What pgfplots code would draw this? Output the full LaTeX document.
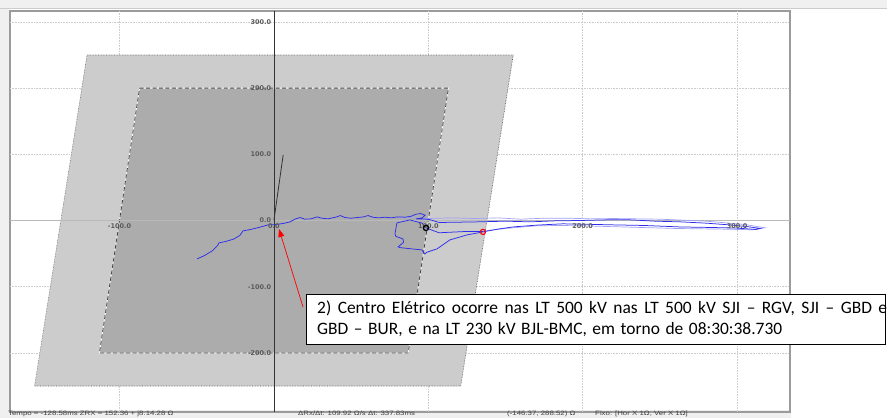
\documentclass[border=0pt]{standalone}
\usepackage{pgfplots}
\pgfplotsset{compat=1.18}
\usetikzlibrary{arrows.meta}
\usepackage{graphicx}
\usepackage{fontspec}
\setmainfont{Carlito}
\newfontfamily\labfont{DejaVu Sans}
\newfontfamily\barfont{Liberation Sans}
\definecolor{winbg}{RGB}{240,240,240}
\definecolor{zoneA}{RGB}{204,204,204}
\definecolor{zoneB}{RGB}{172,172,172}
\definecolor{framec}{RGB}{155,155,155}
\definecolor{trace}{RGB}{45,45,235}
\definecolor{labc}{RGB}{90,90,90}

\begin{document}
\begin{tikzpicture}[x=1bp,y=1bp]
\useasboundingbox (0,0) rectangle (887,418);
\clip (0,0) rectangle (887,418);
\fill[white] (0,0) rectangle (887,418);
\fill[winbg] (0,410) rectangle (887,418);
\fill[winbg] (0,0) rectangle (9,418);
\fill[winbg] (0,0) rectangle (791,8);
\draw[gray!40] (0,409.5) -- (887,409.5);

\begin{axis}[
  anchor=south west, at={(6.5,9.2)},
  width=780bp, height=401bp, scale only axis,
  xmin=-170.9, xmax=334.3, ymin=-289.1, ymax=316.6,
  xtick=\empty, ytick=\empty,
  axis line style={draw=framec, line width=1.6pt},
  clip=true
]
% grid
\pgfplotsinvokeforeach{-100,100,200,300}{
  \addplot[densely dotted, gray!40, line width=0.6pt] coordinates {(#1,-289.1) (#1,316.6)};}
\pgfplotsinvokeforeach{-200,-100,100,200,300}{
  \addplot[densely dotted, gray!40, line width=0.6pt] coordinates {(-170.9,#1) (334.3,#1)};}
% outer zone
\addplot[fill=zoneA, draw=none] coordinates {(-121,250) (155,250) (121,-250) (-155,-250)} --cycle;
\addplot[densely dotted, gray!70!black, line width=0.6pt] coordinates {(-121,250) (155,250) (121,-250) (-155,-250) (-121,250)};
% inner zone
\addplot[fill=zoneB, draw=none] coordinates {(-87,200) (113,200) (87,-200) (-113,-200)} --cycle;
\addplot[white, line width=0.8pt] coordinates {(-87,200) (113,200) (87,-200) (-113,-200) (-87,200)};
\addplot[dash pattern=on 4pt off 2.5pt, gray!55!black, line width=0.8pt] coordinates {(-87,200) (113,200) (87,-200) (-113,-200) (-87,200)};
% axes through origin
\addplot[gray!55, line width=1.8pt] coordinates {(-170.9,0) (334.3,0)};
\addplot[gray!40!black, line width=0.6pt] coordinates {(0,-289.1) (0,316.6)};
\addplot[black!80, line width=0.8pt] coordinates {(0,0) (6,99)};
% pale strand
\addplot[trace!45, line width=0.7pt] coordinates {
(80,5) (100,3) (115,4) (130,3) (145,4) (160,2) (175,3.5) (190,3.5) (205,2.5) (220,3) (235,2.5) (250,2) (265,0.5) (280,-1)
(295,-4) (305,-6) (318,-11) (310,-14) (290,-13) (275,-12.5) (260,-12) (245,-11) (230,-10) (215,-9) (200,-8) (185,-7.5) (170,-8) (160,-10) (150,-12) (135,-16)};
% main trajectory
\addplot[trace, line width=0.75pt] coordinates {
(-49.8,-58) (-45,-53) (-40,-46) (-36.5,-38) (-35.6,-33.8) (-31,-31.5) (-26,-28) (-22,-22.5) (-20,-15.7)
(-15,-13.5) (-9,-10) (-3.8,-6.6) (0.7,-6.2) (6,-4.5) (10.4,-2.1) (14,2.5) (17,4.5) (20,2) (24,2.5) (28,5.5)
(31,3.5) (35,2.5) (40,5) (43,7.5) (46,4.5) (50,3.5) (54,4.5) (58,5.5) (61,7.5) (64,5) (68,4) (72,5) (76,4)
(80,5.5) (85,5) (89,6.5) (92,9.5) (95,10.5) (98,8) (96,4) (92,2.5) (100,2) (107,-3) (120,-2.5) (133,-2)
(150,-1) (166,-2) (182,-0.5) (198,0) (215,1) (231,1) (247,-1) (263,-2) (280,-4) (295,-6.6) (306,-9)
(315,-12) (312,-13.5) (300,-11.5) (283,-10.5) (263,-9.7) (240,-7.5) (220,-6.6) (200,-5.5) (187,-5)
(170,-7) (155,-9.7) (145,-13) (135.4,-17.2) (125,-21.8) (114,-29.3) (105.6,-42.9) (99,-48) (97.8,-50.5)
(95.9,-44.4) (89.4,-42.9) (82,-41) (80.4,-39.9) (84,-33) (83.6,-27.8) (79,-24) (78.4,-20.2) (79.7,-3.6)
(88,0.9) (96,-4) (98.5,-11.2) (107,-18.5) (125,-16.5) (135.4,-16.5)};
\addplot[only marks, mark=o, mark size=2.6pt, black, line width=1.3pt] coordinates {(98.5,-11.2)};
\addplot[only marks, mark=o, mark size=2.6pt, red, line width=1.1pt, mark options={fill=white}] coordinates {(135.4,-17.2)};
% tick labels
\begin{scope}[every node/.style={font=\labfont\bfseries\fontsize{6.5}{7}\selectfont, text=labc, inner sep=1pt}]
\node[anchor=east] at (axis cs:-1,300) {300.0};
\node[anchor=east] at (axis cs:-1,200) {200.0};
\node[anchor=east] at (axis cs:-1,100) {100.0};
\node[anchor=east] at (axis cs:-1,0) {0.0};
\node[anchor=east] at (axis cs:-1,-100) {-100.0};
\node[anchor=east] at (axis cs:-1,-200) {-200.0};
\node[anchor=north] at (axis cs:-100,-3) {-100.0};
\node[anchor=north] at (axis cs:0,-3) {0.0};
\node[anchor=north] at (axis cs:100,-3) {100.0};
\node[anchor=north] at (axis cs:200,-3) {200.0};
\node[anchor=north] at (axis cs:300,-3) {300.0};
\end{scope}
\end{axis}

% annotation
\draw[black, line width=0.9pt, fill=white] (306,74) rectangle (885,124);
\node[anchor=base west, inner sep=0pt, font=\fontsize{17.5}{20}\selectfont] at (317,105)
  {\makebox[570bp][s]{2) Centro Elétrico ocorre nas LT 500 kV nas LT 500 kV SJI – RGV, SJI – GBD e}};
\node[anchor=base west, inner sep=0pt, font=\fontsize{17.5}{20}\selectfont] at (317,84)
  {\makebox[465bp][s]{GBD – BUR, e na LT 230 kV BJL-BMC, em torno de 08:30:38.730}};
\draw[red, line width=0.7pt, -{Triangle[length=8pt,width=6pt]}] (303,111) -- (279,189);

% status bar
\begin{scope}[every node/.style={anchor=north west, inner sep=0pt, font=\barfont\fontsize{6.3}{7}\selectfont, text=black!75}]
\node at (8,7.2) {\scalebox{1.25}[1]{Tempo = -128.58ms  ZRX = 152.36 + j8.14.28 Ω}};
\node at (298,7.2) {\scalebox{1.25}[1]{ΔRx/Δt: 109.92 Ω/s   Δt: 337.83ms}};
\node at (507,7.2) {\scalebox{1.25}[1]{(-146.37, 288.52) Ω}};
\node at (595,7.2) {\scalebox{1.25}[1]{Fixo: [Hor X 1Ω, Ver X 1Ω]}};
\end{scope}
\end{tikzpicture}
\end{document}
